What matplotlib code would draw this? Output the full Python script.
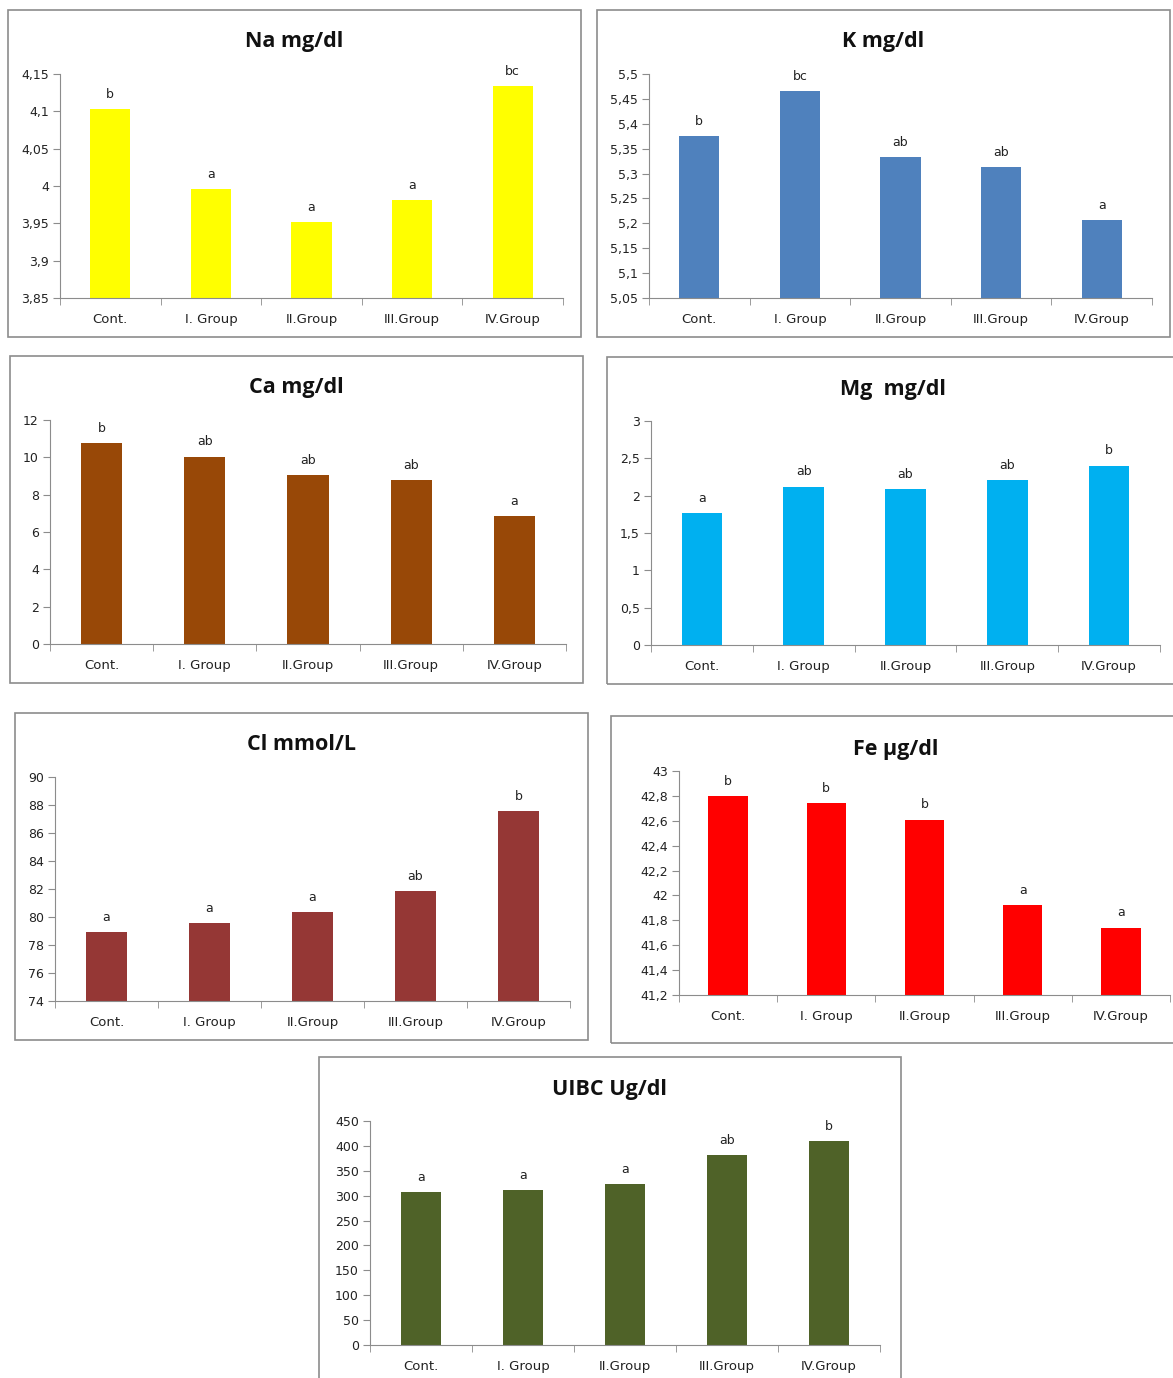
import matplotlib
matplotlib.use("Agg")
import matplotlib.pyplot as plt
from matplotlib.patches import Rectangle
from matplotlib.ticker import FuncFormatter, MultipleLocator

plt.rcParams['font.family'] = ['DejaVu Sans']

groups = ['Cont.', 'I. Group', 'II.Group', 'III.Group', 'IV.Group']

na_vals = [4.103, 3.996, 3.952, 3.981, 4.134]
na_sig = ['b', 'a', 'a', 'a', 'bc']

k_vals = [5.375, 5.466, 5.333, 5.313, 5.207]
k_sig = ['b', 'bc', 'ab', 'ab', 'a']

ca_vals = [10.77, 10.04, 9.05, 8.79, 6.86]
ca_sig = ['b', 'ab', 'ab', 'ab', 'a']

mg_vals = [1.77, 2.12, 2.09, 2.21, 2.40]
mg_sig = ['a', 'ab', 'ab', 'ab', 'b']

cl_vals = [78.93, 79.57, 80.36, 81.86, 87.57]
cl_sig = ['a', 'a', 'a', 'ab', 'b']

fe_vals = [42.80, 42.74, 42.61, 41.92, 41.74]
fe_sig = ['b', 'b', 'b', 'a', 'a']

uibc_vals = [307, 311, 323, 382, 410]
uibc_sig = ['a', 'a', 'a', 'ab', 'b']

W, H = 1173, 1378
fig = plt.figure(figsize=(W / 100, H / 100), dpi=100)


def px_rect(l, t, r, b):
    # pixel box -> figure fraction [left, bottom, width, height]
    return [l / W, 1 - b / H, (r - l) / W, (b - t) / H]


def comma(v, pos):
    s = ('%.2f' % v).rstrip('0').rstrip('.')
    return s.replace('.', ',')


def panel(title, vals, sig, color, ylo, yhi, step, box, axbox, title_y):
    bl, bt, br, bb = box
    fig.patches.append(Rectangle((bl / W, 1 - bb / H), (br - bl) / W, (bb - bt) / H,
                                 transform=fig.transFigure, fill=False,
                                 edgecolor='#8c8c8c', lw=1.2))
    fig.text((bl + br) / 2 / W, 1 - title_y / H, title, ha='center', va='center',
             fontsize=15.5, fontweight='bold', family='Open Sans', color='#111111')

    ax = fig.add_axes(px_rect(*axbox))
    x = range(len(vals))
    ax.bar(x, [v - ylo for v in vals], bottom=ylo, width=0.4, color=color)
    for xi, v, s in zip(x, vals, sig):
        ax.annotate(s, (xi, v), xytext=(0, 6), textcoords='offset points',
                    ha='center', va='bottom', fontsize=9, color='#222222')
    ax.set_xlim(-0.5, len(vals) - 0.5)
    ax.set_ylim(ylo, yhi)
    ax.yaxis.set_major_locator(MultipleLocator(step))
    ax.yaxis.set_major_formatter(FuncFormatter(comma))
    ax.set_xticks(list(x))
    ax.set_xticklabels(groups, va='baseline')
    ax.set_xticks([i + 0.5 for i in range(-1, len(vals))], minor=True)
    ax.tick_params(axis='x', which='major', length=0, pad=18, labelsize=9.5, labelcolor='#222222')
    ax.tick_params(axis='x', which='minor', length=5, color='#8c8c8c', direction='out')
    ax.tick_params(axis='y', length=5, color='#8c8c8c', labelsize=9, labelcolor='#222222', pad=3)
    for side in ['top', 'right']:
        ax.spines[side].set_visible(False)
    for side in ['left', 'bottom']:
        ax.spines[side].set_color('#8c8c8c')
    return ax


panel('Na mg/dl', na_vals, na_sig, '#FFFF00', 3.85, 4.15, 0.05,
      (8, 10, 581, 337), (60, 74, 563, 298), 42)
panel('K mg/dl', k_vals, k_sig, '#4F81BD', 5.05, 5.5, 0.05,
      (597, 10, 1170, 337), (649, 74, 1152, 298), 42)
panel('Ca mg/dl', ca_vals, ca_sig, '#984807', 0, 12, 2,
      (10, 356, 583, 683), (50, 420, 566, 644), 388)
panel('Mg  mg/dl', mg_vals, mg_sig, '#00B0F0', 0, 3, 0.5,
      (607, 357, 1180, 684), (651, 421, 1160, 645), 389)
panel('Cl mmol/L', cl_vals, cl_sig, '#953735', 74, 90, 2,
      (15, 713, 588, 1040), (55, 777, 570, 1001), 745)
panel('Fe µg/dl', fe_vals, fe_sig, '#FF0000', 41.2, 43, 0.2,
      (611, 716, 1180, 1043), (679, 771, 1170, 995), 749)
panel('UIBC Ug/dl', uibc_vals, uibc_sig, '#4F6228', 0, 450, 50,
      (319, 1057, 901, 1385), (370, 1121, 880, 1345), 1089)

fig.savefig('out.png', dpi=100)
